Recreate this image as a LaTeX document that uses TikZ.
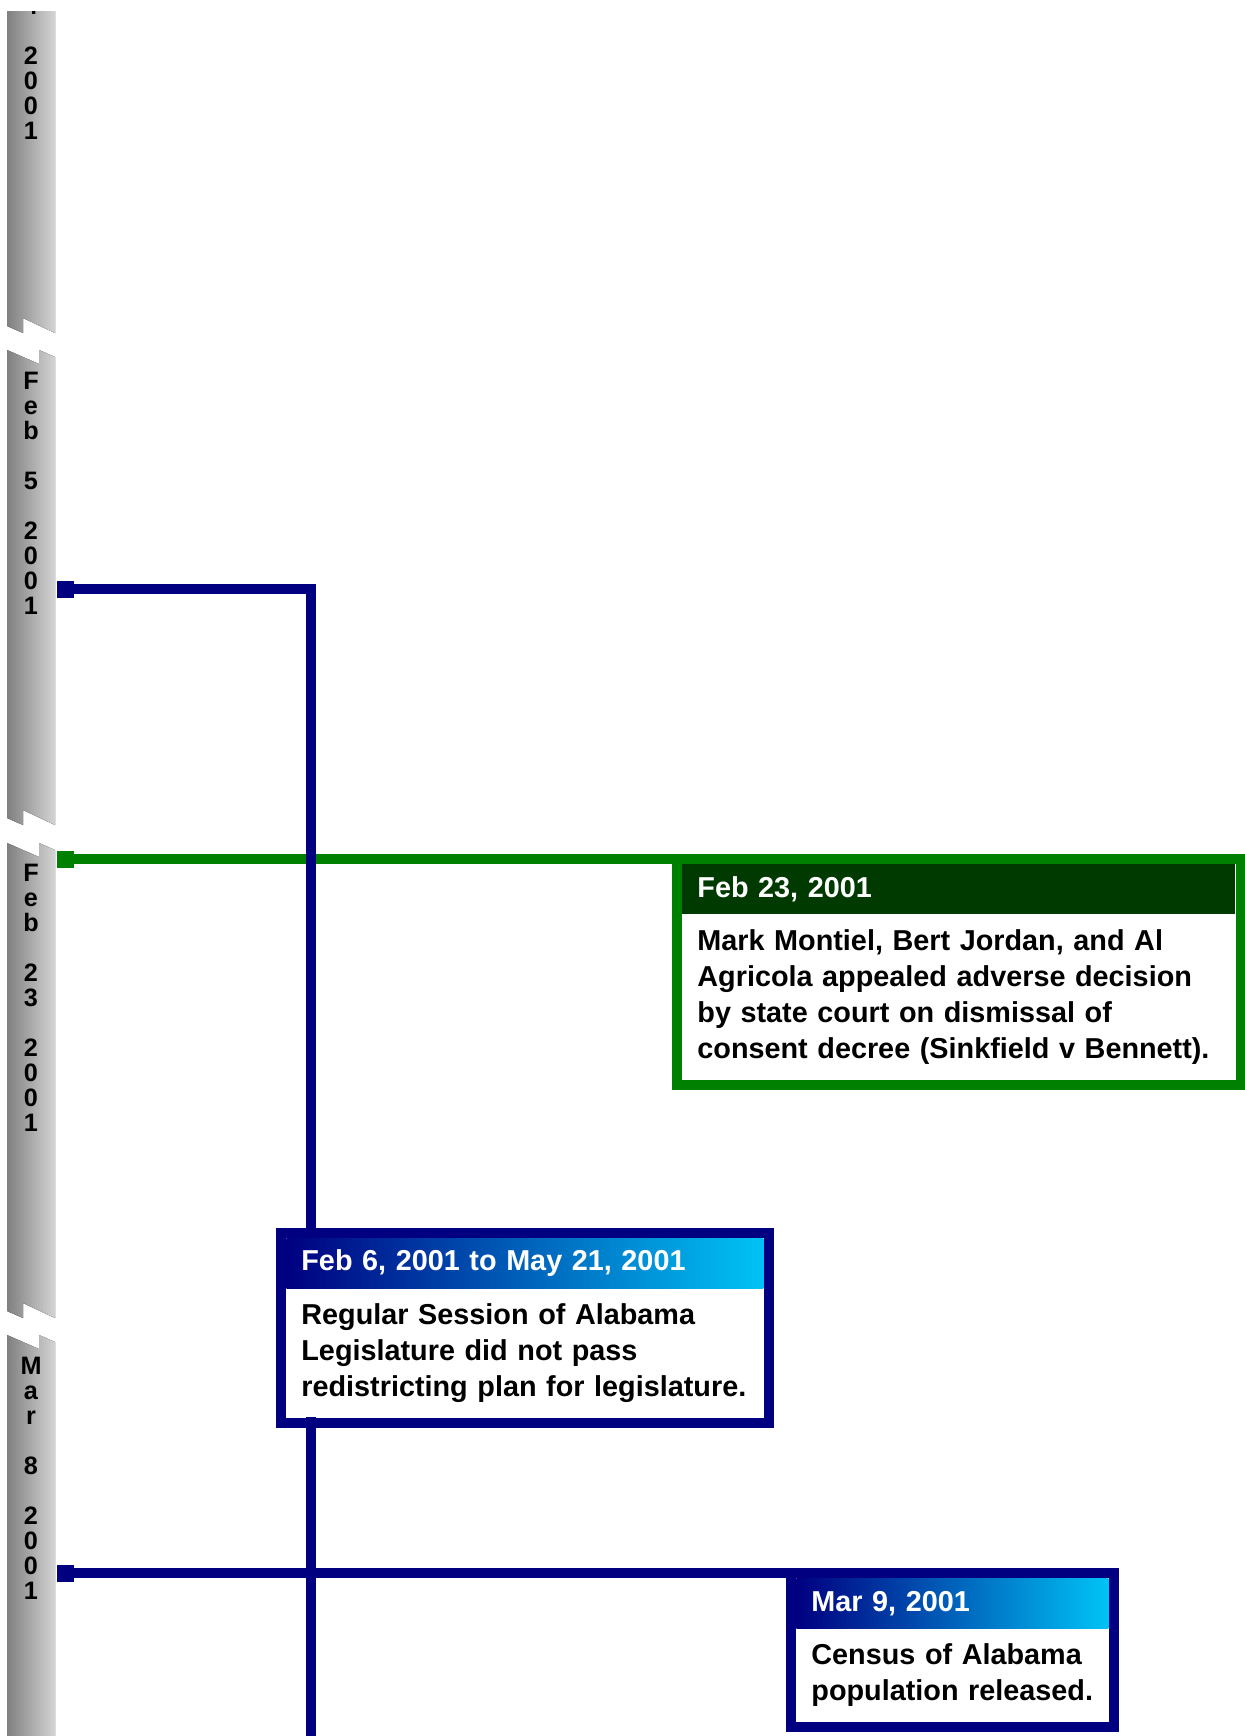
\documentclass[tikz,border=0pt]{standalone}
\usepackage{fontspec}
\setmainfont{Liberation Sans}
\usetikzlibrary{positioning,fit,backgrounds}

\definecolor{evnavy}{RGB}{0,0,128}
\definecolor{evcyan}{RGB}{0,195,245}
\definecolor{evgreen}{RGB}{0,128,0}
\definecolor{evdkgreen}{RGB}{0,58,0}
\definecolor{bardark}{RGB}{128,128,128}
\definecolor{barlight}{RGB}{212,212,212}

\begin{document}
\begin{tikzpicture}[x=0.5pt,y=-0.5pt,
  datelbl/.style={font=\fontsize{12.6}{12.5}\selectfont\bfseries,align=center,inner sep=0pt,anchor=north},
  barseg/.style={left color=bardark,right color=barlight},
  conn/.style={line width=5pt},
  evmark/.style={rectangle,inner sep=0pt,minimum size=8.5pt,fill=#1},
  evhead/.style={anchor=north west,inner xsep=7.5pt,inner ysep=0pt,minimum height=25pt,text width=#1,align=left,text=white,font=\fontsize{14.4}{18}\selectfont\bfseries},
  evbody/.style={inner xsep=7.5pt,inner ysep=5pt,text width=#1,align=left,fill=white,font=\fontsize{14.4}{18}\selectfont\bfseries,execute at begin node=\strut,execute at end node=\strut},
  evframe/.style={draw=#1,line width=5pt,inner sep=2.5pt}]
\useasboundingbox (0,0) rectangle (1244,1736);

% time bar, cut into pieces
\begin{scope}
\clip (0,11) rectangle (60,1736);
\foreach \t in {-142,350,843,1335}
  \fill[barseg] (7,\t) -- (39,\t+14) -- (39,\t) -- (55,\t+7) -- (55,\t+475)
    -- (23,\t+460) -- (23,\t+475) -- (7,\t+468) -- cycle;
\foreach \y/\txt in {-3/{4\\\mbox{}\\2\\0\\0\\1},%
  372/{F\\e\\b\\\mbox{}\\5\\\mbox{}\\2\\0\\0\\1},%
  864/{F\\e\\b\\\mbox{}\\2\\3\\\mbox{}\\2\\0\\0\\1},%
  1357/{M\\a\\r\\\mbox{}\\8\\\mbox{}\\2\\0\\0\\1}}
  \node[datelbl] (lbl\y) at (31,\y) {\txt};
\end{scope}

% markers
\node[evmark=evnavy] (feb6mark) at (65,589) {};
\node[evmark=evgreen] (feb23mark) at (65,859) {};
\node[evmark=evnavy] (mar9mark) at (65,1573) {};
\coordinate (feb6end) at (311,1750);

% events
\node[evhead=261.5pt,fill=evdkgreen] (feb23head) at (682,864) {Feb 23, 2001};
\node[evbody=261.5pt,below=0pt of feb23head] (feb23body) {Mark Montiel, Bert Jordan, and Al\\Agricola appealed adverse decision\\by state court on dismissal of\\consent decree (Sinkfield v Bennett).};
\node[evframe=evgreen,fit=(feb23head)(feb23body)] (feb23frame) {};

\node[evhead=223.5pt,left color=evnavy,right color=evcyan] (feb6head) at (286,1238) {Feb 6, 2001 to May 21, 2001};
\node[evbody=223.5pt,below=0pt of feb6head] (feb6body) {Regular Session of Alabama\\Legislature did not pass\\redistricting plan for legislature.};
\node[evframe=evnavy,fit=(feb6head)(feb6body)] (feb6frame) {};

\node[evhead=141pt,left color=evnavy,right color=evcyan] (mar9head) at (796,1578) {Mar 9, 2001};
\node[evbody=141pt,below=0pt of mar9head] (mar9body) {Census of Alabama\\population released.};
\node[evframe=evnavy,fit=(mar9head)(mar9body)] (mar9frame) {};

% connectors
\begin{scope}[on background layer]
\fill[white] (0,0) rectangle (1244,1736);
\draw[conn,evgreen] (feb23mark) -- (feb23mark -| feb23frame.west);
\draw[conn,evnavy] (feb6mark) -| (feb6end);
\draw[conn,evnavy] (mar9mark) -- (mar9mark -| mar9frame.west);
\end{scope}
\end{tikzpicture}
\end{document}
